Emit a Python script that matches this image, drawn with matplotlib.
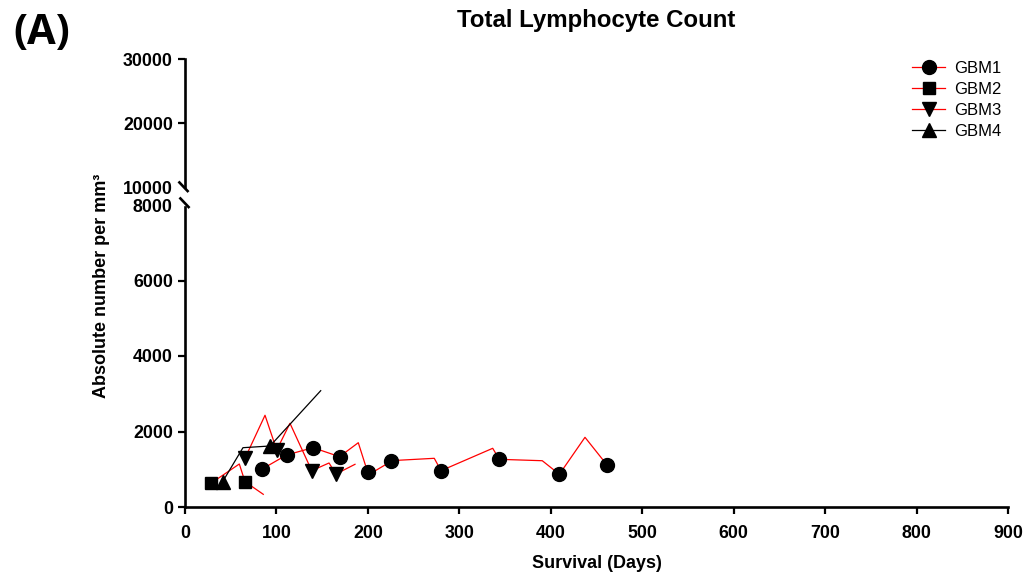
import matplotlib
matplotlib.use('Agg')
import matplotlib.pyplot as plt
from matplotlib.lines import Line2D

plt.rcParams['font.family'] = ['Liberation Sans', 'DejaVu Sans']

# ---------------- data ----------------
gbm1_line_x = [83.8, 111, 140, 169, 189.5, 199.8, 207.7, 218.7, 225, 272.6, 280, 336.5, 343.7, 390.7, 409.4, 437.4, 461.8]
gbm1_line_y = [998, 1377, 1572, 1333, 1703, 918, 955, 1113, 1227, 1290, 962, 1555, 1263, 1226, 866, 1846, 1104]
gbm1_mark_x = [83.8, 111, 140, 169, 199.8, 225, 280, 343.7, 409.4, 461.8]
gbm1_mark_y = [998, 1377, 1572, 1333, 918, 1227, 962, 1263, 866, 1104]

gbm2_line_x = [28.8, 59.4, 65.6, 85.6]
gbm2_line_y = [636, 1139, 671, 336]
gbm2_mark_x = [28.8, 65.6]
gbm2_mark_y = [636, 671]

gbm3_line_x = [65.6, 87.5, 100.3, 114.8, 138.6, 157.5, 165.1, 185.9]
gbm3_line_y = [1290, 2430, 1510, 2217, 962, 1166, 874, 1131]
gbm3_mark_x = [65.6, 100.3, 138.6, 165.1]
gbm3_mark_y = [1290, 1510, 962, 874]

gbm4_line_x = [41.6, 63.4, 93.0, 148.4]
gbm4_line_y = [689, 1571, 1616, 3081]
gbm4_mark_x = [41.9, 93.0]
gbm4_mark_y = [670, 1616]

series_names = ['GBM1', 'GBM2', 'GBM3', 'GBM4']
x_ticks = [0, 100, 200, 300, 400, 500, 600, 700, 800, 900]
y_ticks_low = [0, 2000, 4000, 6000, 8000]
y_ticks_high = [10000, 20000, 30000]

# ---------------- figure ----------------
W, H = 1028, 577
fig = plt.figure(figsize=(W / 100, H / 100), dpi=100)

left = 185 / W
width = (1008 - 185) / W
ax_bot = fig.add_axes([left, (H - 507) / H, width, (507 - 205) / H])
ax_top = fig.add_axes([left, (H - 187) / H, width, (187 - 59) / H], sharex=ax_bot)

spine_lw = 1.9
tick_kw = dict(direction='out', length=4.8, width=1.6, labelsize=12.8, colors='black')

for ax in (ax_bot, ax_top):
    for s in ('top', 'right'):
        ax.spines[s].set_visible(False)
    ax.spines['left'].set_linewidth(spine_lw)
    ax.tick_params(axis='both', **tick_kw)
    ax.tick_params(axis='y', pad=4)
    ax.tick_params(axis='x', pad=8)
    ax.patch.set_visible(False)

ax_top.spines['bottom'].set_visible(False)
ax_top.tick_params(axis='x', which='both', bottom=False, labelbottom=False)
ax_bot.spines['bottom'].set_linewidth(spine_lw)

ax_bot.set_xlim(0, 900)
ax_bot.set_xticks(x_ticks)
ax_bot.set_ylim(0, 8000)
ax_bot.set_yticks(y_ticks_low)
ax_top.set_ylim(10000, 30000)
ax_top.set_yticks(y_ticks_high)

for ax in (ax_bot, ax_top):
    for lab in ax.get_xticklabels() + ax.get_yticklabels():
        lab.set_fontweight('bold')

# hide ticks at the break (replaced by break marks)
ax_bot.yaxis.get_major_ticks()[-1].tick1line.set_visible(False)
ax_top.yaxis.get_major_ticks()[0].tick1line.set_visible(False)
ax_bot.spines['left'].set_bounds(0, 7950)

# break marks
for (x1, y1, x2, y2) in [(178.5, 181.5, 188.5, 192), (179.5, 197.5, 189.5, 208)]:
    fig.add_artist(Line2D([x1 / W, x2 / W], [1 - y1 / H, 1 - y2 / H],
                          transform=fig.transFigure, color='black', lw=spine_lw,
                          solid_capstyle='butt'))

red = '#FF0000'
lw = 0.9
ax_bot.plot(gbm1_line_x, gbm1_line_y, color=red, lw=lw, zorder=2, clip_on=False)
ax_bot.plot(gbm2_line_x, gbm2_line_y, color=red, lw=lw, zorder=2, clip_on=False)
ax_bot.plot(gbm3_line_x, gbm3_line_y, color=red, lw=lw, zorder=2, clip_on=False)
ax_bot.plot(gbm4_line_x, gbm4_line_y, color='black', lw=lw, zorder=2, clip_on=False)

ms_c, ms_s, ms_t = 10.0, 9.3, 10.5
ax_bot.plot(gbm1_mark_x, gbm1_mark_y, 'o', color='black', ms=ms_c, zorder=3, clip_on=False)
ax_bot.plot(gbm2_mark_x, gbm2_mark_y, 's', color='black', ms=ms_s, zorder=3, clip_on=False)
ax_bot.plot(gbm3_mark_x, gbm3_mark_y, 'v', color='black', ms=ms_t, zorder=3, clip_on=False)
ax_bot.plot(gbm4_mark_x, gbm4_mark_y, '^', color='black', ms=ms_t, zorder=3, clip_on=False)

handles = [
    Line2D([], [], color=red, lw=lw, marker='o', mfc='black', mec='black', ms=ms_c),
    Line2D([], [], color=red, lw=lw, marker='s', mfc='black', mec='black', ms=ms_s),
    Line2D([], [], color=red, lw=lw, marker='v', mfc='black', mec='black', ms=ms_t),
    Line2D([], [], color='black', lw=lw, marker='^', mfc='black', mec='black', ms=ms_t),
]
fig.legend(handles, series_names, loc='upper left', bbox_to_anchor=(912 / W, 1 - 61 / H),
           frameon=False, fontsize=12, handlelength=2.0, handletextpad=0.55,
           labelspacing=0.36, borderpad=0, borderaxespad=0)

# texts
fig.text((185 + 1008) / 2 / W, 1 - 20 / H, 'Total Lymphocyte Count', ha='center', va='center',
         fontsize=17.3, fontweight='bold')
fig.text((185 + 1008) / 2 / W, 1 - 563 / H, 'Survival (Days)', ha='center', va='center',
         fontsize=13, fontweight='bold')
fig.text(102 / W, 1 - 286 / H, 'Absolute number per mm\u00b3', ha='center', va='center',
         rotation=90, fontsize=13, fontweight='bold')
fig.text(13 / W, 1 - 34 / H, '(A)', ha='left', va='center', fontsize=30, fontweight='bold',
         family=['Open Sans', 'DejaVu Sans'])

fig.savefig('out.png', dpi=100)
